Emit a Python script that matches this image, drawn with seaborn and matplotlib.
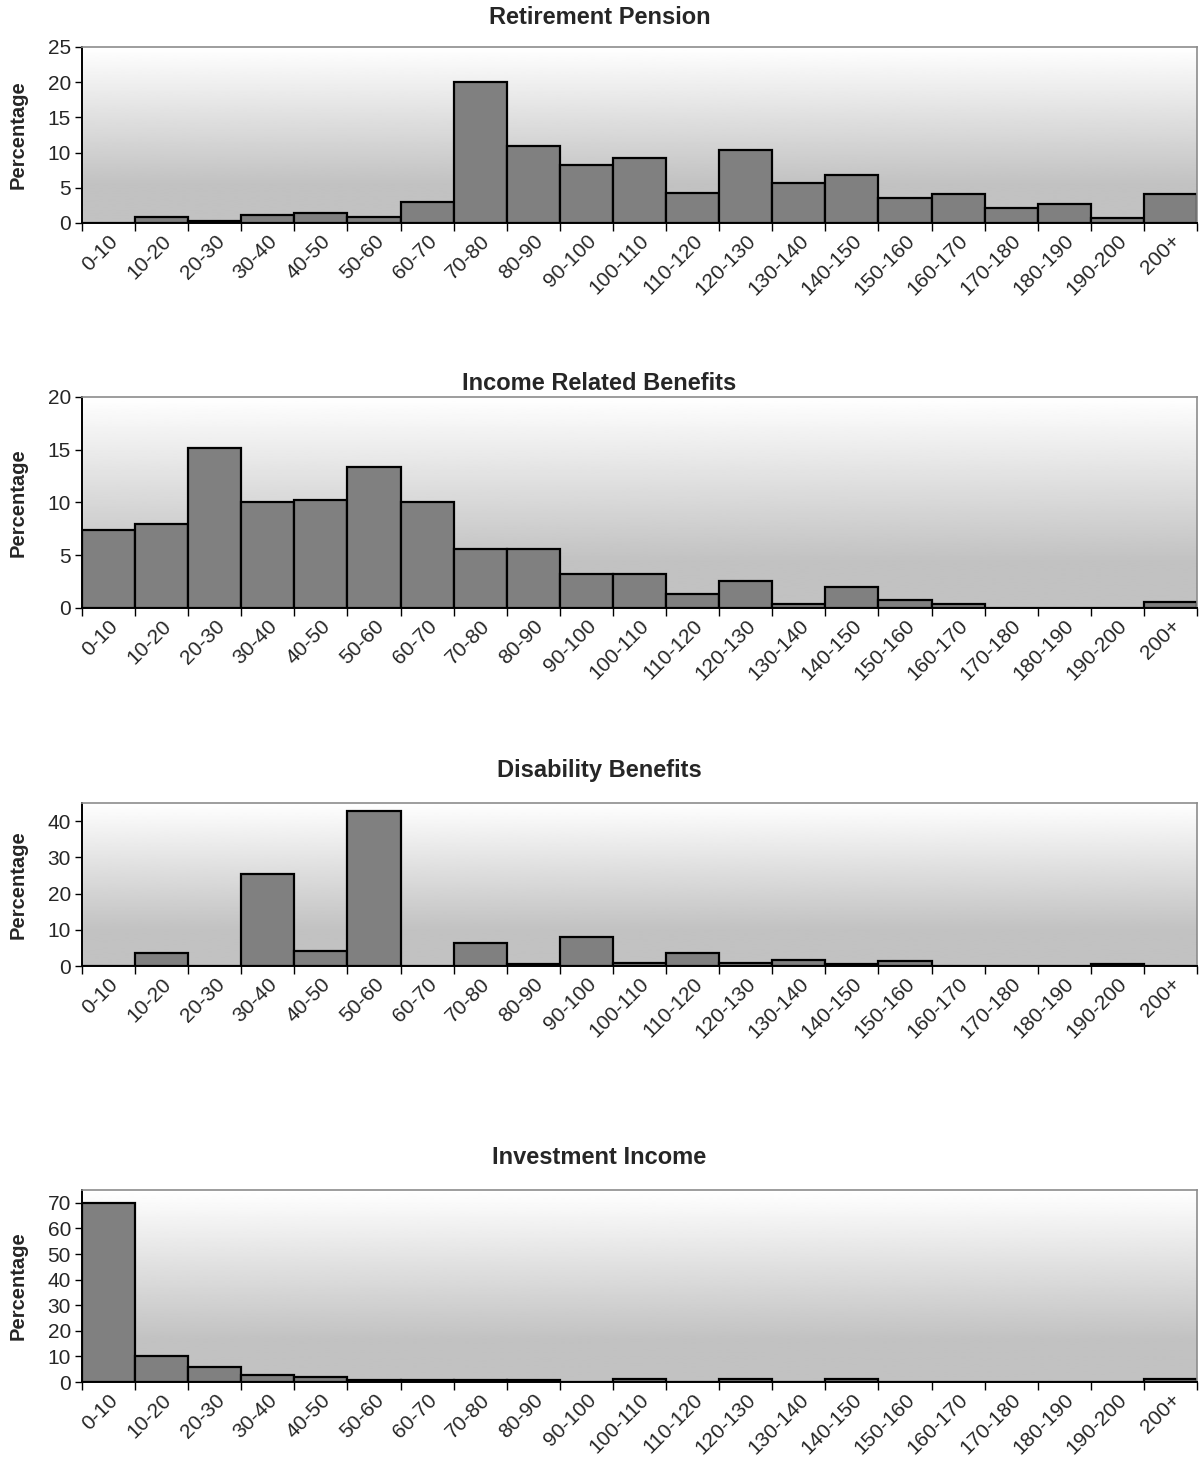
import numpy as np
import pandas as pd
import matplotlib
matplotlib.use("Agg")
import matplotlib.pyplot as plt
import matplotlib.transforms as mtransforms
import seaborn as sns

# Income bands shared by all four distributions
bands = ["0-10", "10-20", "20-30", "30-40", "40-50", "50-60", "60-70", "70-80",
         "80-90", "90-100", "100-110", "110-120", "120-130", "130-140", "140-150",
         "150-160", "160-170", "170-180", "180-190", "190-200", "200+"]

retirement_pension = [0.0, 0.8, 0.25, 1.1, 1.4, 0.8, 3.0, 20.0, 10.9, 8.2, 9.2,
                      4.3, 10.3, 5.7, 6.8, 3.5, 4.1, 2.1, 2.7, 0.7, 4.1]
income_related = [7.4, 8.0, 15.2, 10.0, 10.2, 13.4, 10.0, 5.6, 5.6, 3.2, 3.2,
                  1.35, 2.6, 0.4, 2.0, 0.8, 0.4, 0.0, 0.0, 0.0, 0.6]
disability = [0.0, 3.7, 0.0, 25.4, 4.1, 42.8, 0.0, 6.3, 0.5, 8.0, 0.9,
              3.6, 0.9, 1.7, 0.5, 1.3, 0.0, 0.0, 0.0, 0.5, 0.0]
investment = [70.0, 10.2, 5.8, 2.9, 2.1, 0.8, 0.8, 0.8, 0.8, 0.0, 1.3,
              0.0, 1.3, 0.0, 1.3, 0.0, 0.0, 0.0, 0.0, 0.0, 1.3]

titles = ["Retirement Pension", "Income Related Benefits",
          "Disability Benefits", "Investment Income"]
series = [retirement_pension, income_related, disability, investment]
y_limits = [25, 20, 45, 75]
y_steps = [5, 5, 10, 10]

sns.set_theme(style="white")
plt.rcParams["font.family"] = ["Liberation Sans", "DejaVu Sans"]

W, H = 1199, 1469
fig = plt.figure(figsize=(W / 100, H / 100), dpi=100)

# axes boxes in pixels: (left, top, right, bottom)
boxes = [(82, 47, 1197, 223), (82, 397, 1197, 608),
         (82, 803, 1197, 966), (82, 1190, 1197, 1382)]
title_y = [18, 383, 770, 1157]

# vertical background shading: white at top fading to light grey
grad_rows = 200
t = np.linspace(0, 1, grad_rows)
shade = np.where(t < 0.78, 1.0 - (1.0 - 0.76) * (t / 0.78), 0.76)
gradient = shade[:, None]

# nudge the slanted category labels a little to the lower left
label_shift = mtransforms.ScaledTranslation(-7 / 100, -2 / 100, fig.dpi_scale_trans)

for i, (title, vals) in enumerate(zip(titles, series)):
    l, tp, r, b = boxes[i]
    ax = fig.add_axes([l / W, 1 - b / H, (r - l) / W, (b - tp) / H])
    df = pd.DataFrame({"band": bands, "pct": vals})
    ymax = y_limits[i]
    ax.imshow(gradient, extent=(-0.5, len(bands) - 0.5, 0, ymax),
              aspect="auto", cmap="gray", vmin=0, vmax=1, zorder=0,
              interpolation="bilinear")
    sns.barplot(data=df, x="band", y="pct", ax=ax, width=1.0,
                color="#808080", saturation=1, edgecolor="black",
                linewidth=1.6, zorder=2)
    ax.set_xlim(-0.5, len(bands) - 0.5)
    ax.set_ylim(0, ymax)
    ax.set_yticks(np.arange(0, ymax + 0.01, y_steps[i]))
    ax.set_xticks(range(len(bands)))
    ax.set_xticklabels(bands, rotation=45, ha="right", va="top",
                       rotation_mode="anchor", fontsize=15)
    for lab in ax.get_xticklabels():
        lab.set_transform(lab.get_transform() + label_shift)
    ax.set_xticks(np.arange(-0.5, len(bands), 1.0), minor=True)
    ax.tick_params(axis="x", which="major", length=0, pad=6)
    ax.tick_params(axis="x", which="minor", length=6, width=1, color="black",
                   direction="out", bottom=True)
    ax.tick_params(axis="y", length=5, width=1, color="black", direction="out",
                   left=True, labelsize=15, pad=3)
    ax.set_xlabel("")
    ax.set_ylabel("Percentage", fontsize=14.5, fontweight="bold")
    ax.yaxis.set_label_coords(-0.049, 0.5)
    for side in ["top", "right"]:
        ax.spines[side].set_color("#8c8c8c")
        ax.spines[side].set_linewidth(1.2)
    for side in ["left", "bottom"]:
        ax.spines[side].set_color("black")
        ax.spines[side].set_linewidth(1.4)
    ax.spines["bottom"].set_zorder(3)
    fig.text(0.5, 1 - title_y[i] / H, title, ha="center", va="center",
             fontsize=17, fontweight="bold")

fig.savefig("out.png", dpi=100, facecolor="white")
